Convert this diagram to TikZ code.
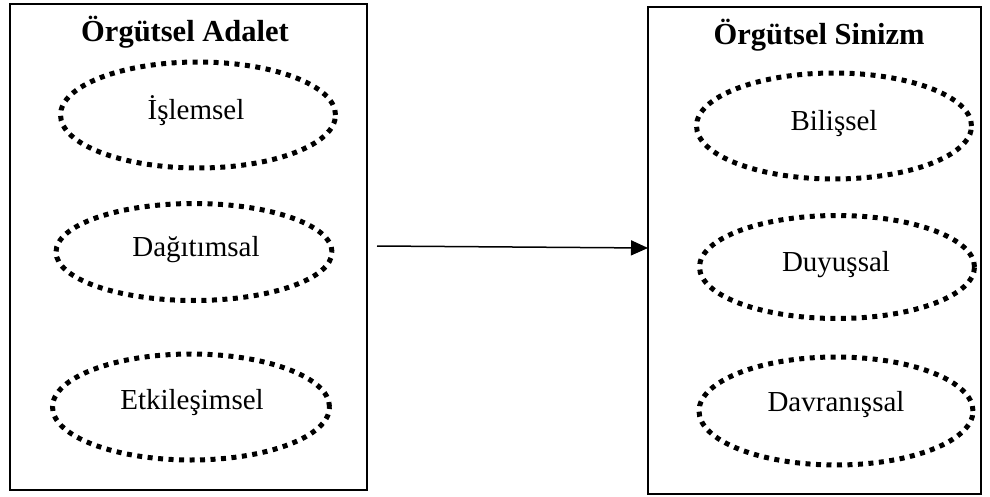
\documentclass[tikz,border=0pt]{standalone}
\usepackage{fontspec}
\setmainfont{Liberation Serif}
\usetikzlibrary{shapes.geometric,arrows.meta}
\begin{document}
\begin{tikzpicture}[x=1pt,y=-1pt,
  frame/.style={draw,line width=2pt},
  dotell/.style={draw,ellipse,line width=5pt,dash pattern=on 5pt off 5.5pt,inner sep=0pt},
  title/.style={font=\fontsize{30.5}{34}\selectfont\bfseries,anchor=base},
  lbl/.style={font=\fontsize{29}{33}\selectfont},
  conn/.style={line width=1.5pt,-{Triangle[length=17pt,width=15pt]}}]
\useasboundingbox (0,0) rectangle (990,497);
% boxes
\draw[frame] (10,4) rectangle (367,490);
\draw[frame] (648,7) rectangle (981,494);
\node[title] (t1) at (185,42) {Örgütsel Adalet};
\node[title] (t2) at (819,45) {Örgütsel Sinizm};
% left ellipses
\node[dotell,minimum width=275pt,minimum height=106pt] (e1) at (198,115) {};
\node[lbl] (l1) at (196,111) {İşlemsel};
\node[dotell,minimum width=276pt,minimum height=97pt] (e2) at (194,252) {};
\node[lbl] (l2) at (196,250) {Dağıtımsal};
\node[dotell,minimum width=277pt,minimum height=106pt] (e3) at (191,407) {};
\node[lbl] (l3) at (192,403) {Etkileşimsel};
% right ellipses
\node[dotell,minimum width=275pt,minimum height=106pt] (e4) at (834,126) {};
\node[lbl] (l4) at (834,124) {Bilişsel};
\node[dotell,minimum width=275pt,minimum height=103pt] (e5) at (837,267) {};
\node[lbl] (l5) at (836,265) {Duyuşsal};
\node[dotell,minimum width=274pt,minimum height=108pt] (e6) at (836,411) {};
\node[lbl] (l6) at (836,405) {Davranışsal};
% arrow
\coordinate (a0) at (377,246);
\coordinate (a1) at (648,248);
\draw[conn] (a0) -- (a1);
\end{tikzpicture}
\end{document}
